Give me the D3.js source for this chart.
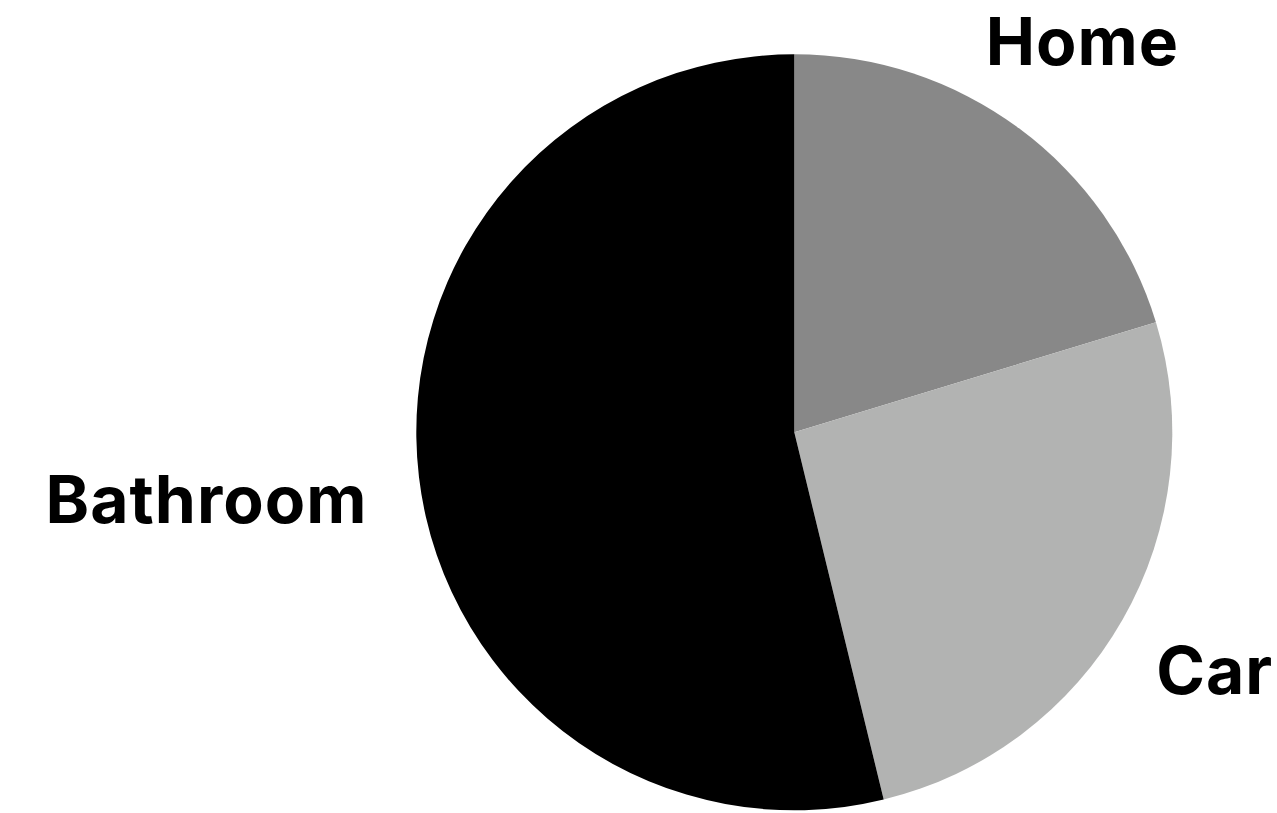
<!DOCTYPE html>
<html>
<head>
<meta charset="utf-8">
<script src="https://cdn.jsdelivr.net/npm/d3@7"></script>
<style>
  html, body { margin: 0; padding: 0; background: #ffffff; }
  svg { display: block; }
  text { font-family: "Inter", "Open Sans", sans-serif; font-weight: 700; letter-spacing: 1px; }
</style>
</head>
<body>
<svg id="chart" width="1277" height="813"></svg>
<script>
const categories = ["Home", "Car", "Bathroom"];
const values = [20.3, 25.9, 53.8];
const colors = ["#888888", "#b2b3b2", "#000000"];

const width = 1277, height = 813;
const cx = 794.3, cy = 432.3, radius = 378;

const svg = d3.select("#chart");
const g = svg.append("g").attr("transform", `translate(${cx},${cy})`);

const data = categories.map((c, i) => ({ name: c, value: values[i], color: colors[i] }));

const pie = d3.pie().sort(null).value(d => d.value);
const arc = d3.arc().innerRadius(0).outerRadius(radius);

const arcs = pie(data);

g.selectAll("path.slice")
  .data(arcs)
  .enter().append("path")
  .attr("class", "slice")
  .attr("d", arc)
  .attr("fill", d => d.data.color);

// label placement along each slice's mid-angle
const rightLabelArc = d3.arc().innerRadius(484).outerRadius(484);
const leftLabelArc = d3.arc().innerRadius(430).outerRadius(430);
const capHalf = 24;

g.selectAll("text.label")
  .data(arcs)
  .enter().append("text")
  .attr("class", "label")
  .each(function(d) {
    const mid = (d.startAngle + d.endAngle) / 2;
    const right = mid < Math.PI;
    const [x, y] = right ? rightLabelArc.centroid(d) : leftLabelArc.centroid(d);
    d3.select(this)
      .attr("x", x)
      .attr("y", y + capHalf + (right ? -2 : 15))
      .attr("text-anchor", right ? "middle" : "end");
  })
  .attr("font-size", 66)
  .attr("fill", "#000")
  .text(d => d.data.name);
</script>
</body>
</html>
